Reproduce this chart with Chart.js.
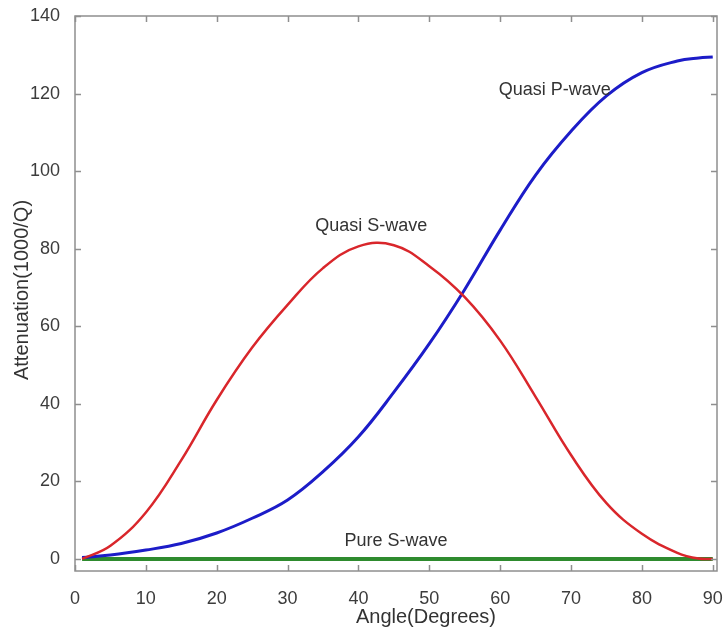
<!DOCTYPE html>
<html>
<head>
<meta charset="utf-8">
<script src="https://cdn.jsdelivr.net/npm/chart.js@4.4.0/dist/chart.umd.min.js"></script>
<style>
  html, body { margin: 0; padding: 0; background: #fff; }
  #wrap { width: 726px; height: 632px; }
</style>
</head>
<body>
<div id="wrap"><canvas id="attChart" width="726" height="632"></canvas></div>
<script>
// angle samples (degrees) and attenuation values
const angles = [1, 5, 10, 15, 20, 25, 30, 35, 40, 45, 50, 55, 60, 65, 70, 75, 80, 85, 88, 90];
const quasiS = [0, 3.4, 12, 25.5, 41, 54.5, 65.5, 75, 80.6, 80.9, 75.5, 67.5, 56.3, 41.8, 26.8, 14.4, 6.5, 1.6, 0.1, 0];
const quasiP = [0.4, 1, 2.3, 4, 6.7, 10.5, 15.2, 22.5, 31.5, 43, 55.5, 69.5, 84.8, 99, 110.3, 119.4, 125.4, 128.4, 129.2, 129.4];
const pureAngles = [1, 90];
const pureS = [0, 0];

const xTicks = [0, 10, 20, 30, 40, 50, 60, 70, 80, 90];
const yTicks = [0, 20, 40, 60, 80, 100, 120, 140];

const noteText = ['Quasi P-wave', 'Quasi S-wave', 'Pure S-wave'];
const noteX = [67.7, 41.8, 45.3];
const noteY = [120.9, 85.9, 4.6];

const FONT = "'Liberation Sans', Arial, sans-serif";

function toPoints(xs, ys) {
    return xs.map((x, i) => ({ x: x, y: ys[i] }));
}

const frame = {
    id: 'frame',
    afterDatasetsDraw(chart) {
        const ctx = chart.ctx;
        const { left, right, top, bottom } = chart.chartArea;
        const xs = chart.scales.x, ys = chart.scales.y;
        ctx.save();
        ctx.strokeStyle = '#8f8f8f';
        ctx.lineWidth = 1.5;
        ctx.strokeRect(left, top, right - left, bottom - top);
        ctx.beginPath();
        xTicks.forEach(v => {
            const px = Math.round(xs.getPixelForValue(v)) + 0.5;
            ctx.moveTo(px, bottom); ctx.lineTo(px, bottom - 6);
            ctx.moveTo(px, top); ctx.lineTo(px, top + 6);
        });
        yTicks.forEach(v => {
            const py = Math.round(ys.getPixelForValue(v)) + 0.5;
            ctx.moveTo(left, py); ctx.lineTo(left + 6, py);
            ctx.moveTo(right, py); ctx.lineTo(right - 6, py);
        });
        ctx.stroke();

        // curve labels
        ctx.fillStyle = '#333';
        ctx.font = '18px ' + FONT;
        ctx.textAlign = 'center';
        ctx.textBaseline = 'middle';
        noteText.forEach((t, i) => {
            ctx.fillText(t, xs.getPixelForValue(noteX[i]), ys.getPixelForValue(noteY[i]));
        });

        // axis titles
        ctx.font = '20px ' + FONT;
        ctx.fillText('Angle(Degrees)', 426, 617);
        ctx.translate(22, 290);
        ctx.rotate(-Math.PI / 2);
        ctx.fillText('Attenuation(1000/Q)', 0, 0);
        ctx.restore();
    }
};

const ctx = document.getElementById('attChart').getContext('2d');
const attChart = new Chart(ctx, {
    type: 'line',
    data: {
        datasets: [{
            label: 'Quasi S-wave',
            data: toPoints(angles, quasiS),
            borderColor: '#d9262b',
            borderWidth: 2.5,
            pointRadius: 0,
            tension: 0.4
        }, {
            label: 'Quasi P-wave',
            data: toPoints(angles, quasiP),
            borderColor: '#1c1cc8',
            borderWidth: 3,
            pointRadius: 0,
            tension: 0.4
        }, {
            label: 'Pure S-wave',
            data: toPoints(pureAngles, pureS),
            borderColor: '#2e8b2e',
            borderWidth: 4,
            pointRadius: 0
        }]
    },
    options: {
        responsive: false,
        animation: false,
        devicePixelRatio: 1,
        layout: { padding: { top: 16, right: 9, left: 0, bottom: 0 } },
        plugins: {
            legend: { display: false },
            tooltip: { enabled: false }
        },
        scales: {
            x: {
                type: 'linear',
                min: 0,
                max: 90.6,
                grid: { display: false },
                border: { display: false },
                ticks: { color: '#3c3c3c', font: { family: FONT, size: 18 }, padding: 9 },
                afterBuildTicks: scale => { scale.ticks = xTicks.map(v => ({ value: v })); },
                afterFit: scale => { scale.height = 61; scale.paddingLeft = 0; scale.paddingRight = 0; }
            },
            y: {
                type: 'linear',
                min: -3.1,
                max: 140,
                grid: { display: false },
                border: { display: false },
                ticks: { color: '#3c3c3c', font: { family: FONT, size: 18 }, padding: 7 },
                afterBuildTicks: scale => { scale.ticks = yTicks.map(v => ({ value: v })); },
                afterFit: scale => { scale.width = 75; scale.paddingTop = 0; scale.paddingBottom = 0; }
            }
        }
    },
    plugins: [frame]
});
</script>
</body>
</html>
